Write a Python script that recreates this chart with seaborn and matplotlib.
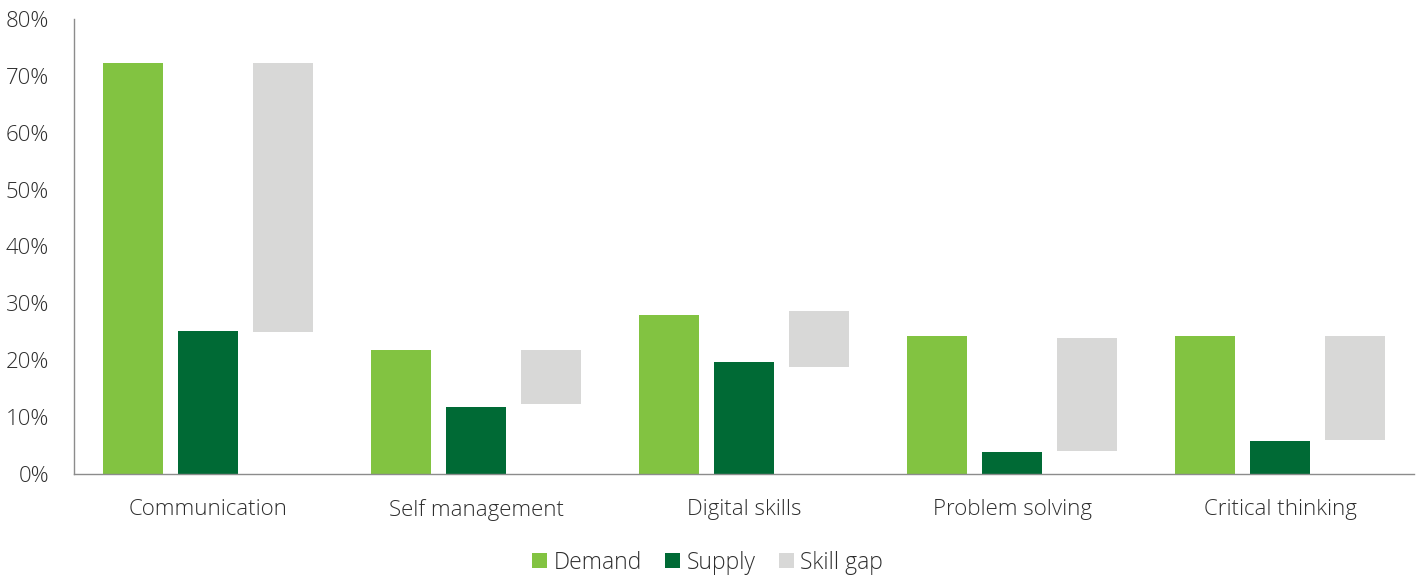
import matplotlib
matplotlib.use("Agg")
import matplotlib.pyplot as plt
import seaborn as sns
import pandas as pd
from matplotlib.patches import Patch
from matplotlib.ticker import PercentFormatter

skills = ["Communication", "Self management", "Digital skills", "Problem solving", "Critical thinking"]
demand = [72.3, 21.7, 27.9, 24.2, 24.2]
supply = [25.1, 11.8, 19.6, 3.8, 5.7]
gap_low = [24.9, 12.2, 18.8, 4.0, 5.95]
gap_high = [72.3, 21.7, 28.6, 23.9, 24.2]

series = ["Demand", "Supply", "Skill gap"]
colors = ["#82C341", "#006A35", "#D8D8D7"]
text_color = "#2E2E2E"
spine_color = "#8C8C8C"

sns.set_theme(style="white")
plt.rcParams["font.family"] = ["Open Sans", "DejaVu Sans"]

df = pd.DataFrame({
    "skill": skills * 3,
    "series": ["Demand"] * 5 + ["Supply"] * 5 + ["Skill gap"] * 5,
    "value": demand + supply + gap_high,
})

fig = plt.figure(figsize=(14.24, 5.77), dpi=100)
ax = fig.add_axes([0.052, 0.179, 0.941, 0.788])

sns.barplot(data=df, x="skill", y="value", hue="series", order=skills,
            hue_order=series, palette=colors, width=0.84, gap=0.21,
            saturation=1, legend=False, ax=ax, linewidth=0)

# the skill-gap bars float between the low and high ends of the gap
for patch, lo, hi in zip(ax.containers[2].patches, gap_low, gap_high):
    patch.set_y(lo)
    patch.set_height(hi - lo)

ax.set_xlim(-0.5, 4.5)
ax.set_ylim(0, 80)
ax.set_yticks(range(0, 81, 10))
ax.yaxis.set_major_formatter(PercentFormatter(decimals=0))
ax.set_xlabel("")
ax.set_ylabel("")

for side in ["top", "right"]:
    ax.spines[side].set_visible(False)
for side in ["left", "bottom"]:
    ax.spines[side].set_color(spine_color)
    ax.spines[side].set_linewidth(1.0)

ax.tick_params(axis="y", length=0, pad=18, labelsize=16, labelcolor=text_color)
ax.tick_params(axis="x", length=0, pad=18, labelsize=16, labelcolor=text_color)
for lbl in ax.get_xticklabels() + ax.get_yticklabels():
    lbl.set_fontweight("light")

handles = [Patch(facecolor=c, edgecolor="none", label=s) for s, c in zip(series, colors)]
leg = fig.legend(handles=handles, loc="center", bbox_to_anchor=(0.497, 0.025),
                 ncol=3, frameon=False, fontsize=16.5, handlelength=0.65,
                 handleheight=0.65, handletextpad=0.3, columnspacing=1.0)
for t in leg.get_texts():
    t.set_color(text_color)
    t.set_fontweight("light")

fig.savefig("out.png", dpi=100)
